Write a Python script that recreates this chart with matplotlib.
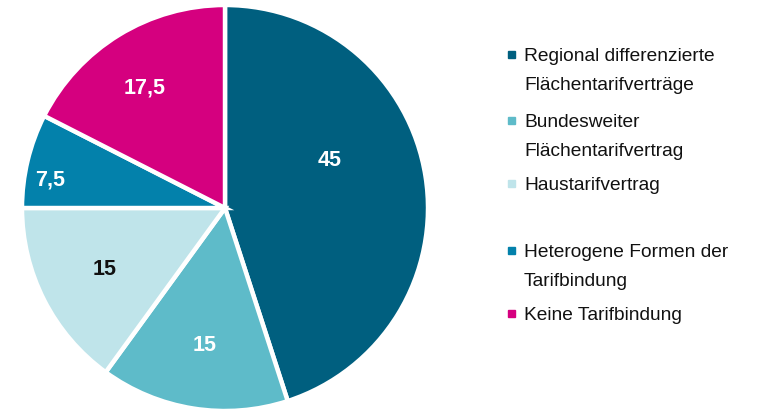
import matplotlib
matplotlib.use("Agg")
import matplotlib.pyplot as plt

categories = ["Regional differenzierte\nFlächentarifverträge",
              "Bundesweiter\nFlächentarifvertrag",
              "Haustarifvertrag",
              "Heterogene Formen der\nTarifbindung",
              "Keine Tarifbindung"]
values = [45, 15, 15, 7.5, 17.5]
value_labels = ["45", "15", "15", "7,5", "17,5"]
colors = ["#005f7f", "#5ebbc9", "#bfe4ea", "#0381ab", "#d5007f"]
label_colors = ["white", "white", "#111111", "white", "white"]

W, H = 766, 409
fig = plt.figure(figsize=(W / 100, H / 100), dpi=100)
R = 203
cx, cy = 225, 208
ax = fig.add_axes([(cx - R) / W, (H - cy - R) / H, 2 * R / W, 2 * R / H])
ax.pie(values, colors=colors, startangle=90, counterclock=False, radius=1,
       wedgeprops=dict(edgecolor="white", linewidth=3.2))
ax.set_xlim(-1, 1)
ax.set_ylim(-1, 1)
ax.set_aspect("auto")
ax.axis("off")

label_pos = [(0.517, 0.236), (-0.099, -0.675), (-0.591, -0.305), (-0.862, 0.138), (-0.394, 0.591)]
for (x, y), t, c in zip(label_pos, value_labels, label_colors):
    ax.text(x, y, t, ha="center", va="center", color=c, fontsize=15.5,
            fontweight="bold", family="Liberation Sans")

# legend (baselines in pixels from top)
first_baselines = [61, 127, 190, 257, 320]
line_step = 29
for yb, name, col in zip(first_baselines, categories, colors):
    fig.patches.append(plt.Rectangle((508 / W, (H - yb + 3) / H), 7 / W, 7 / H,
                                     transform=fig.transFigure, color=col, figure=fig))
    for i, ln in enumerate(name.split("\n")):
        fig.text(524 / W, (H - yb - line_step * i) / H, ln, ha="left", va="baseline",
                 fontsize=13.8, family="Liberation Sans", color="#111111")

fig.savefig("out.png", dpi=100)
